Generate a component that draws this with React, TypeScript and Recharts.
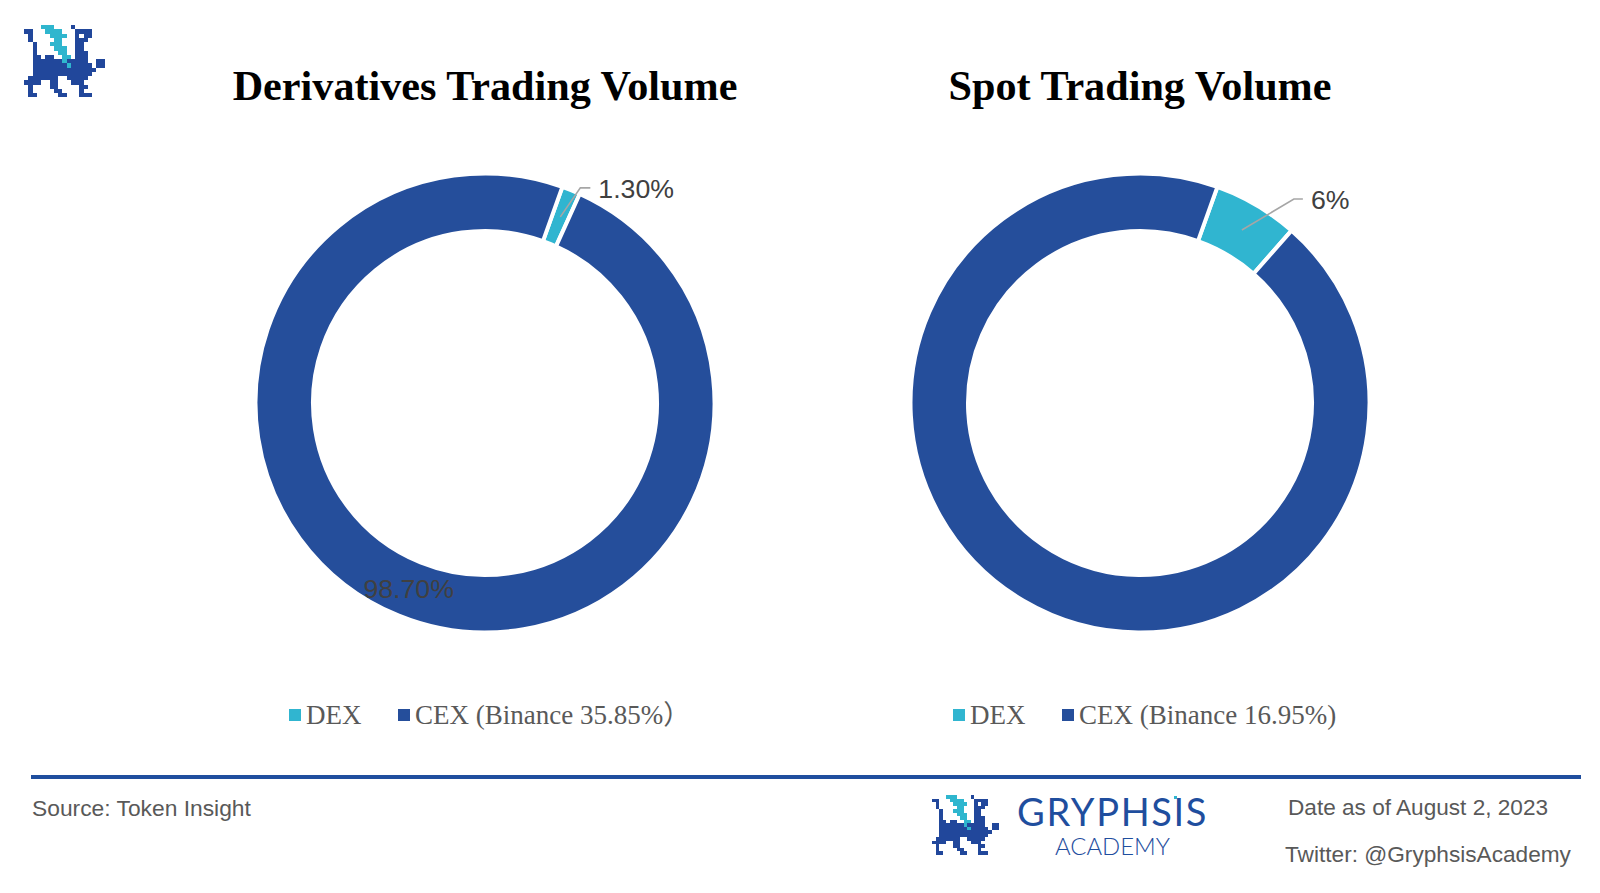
import React from "react";
import { PieChart, Pie, Cell, Legend } from "recharts";

const derivativesNames = ["DEX", "CEX (Binance 35.85%）"];
const derivativesValues = [1.3, 98.7];
const derivativesLabels = ["1.30%", "98.70%"];
const spotNames = ["DEX", "CEX (Binance 16.95%)"];
const spotValues = [6, 94];
const spotLabels = ["6%", ""];
const logoRows = [
  "....ttt....n.......",
  "nn...tttt...nnnn...",
  ".n....tttt..nwnn...",
  ".n.....tt...nnn....",
  "..n...ttt...nn.....",
  "..n....ttt..nn.....",
  "..n.....tt..nnn....",
  "..nn.nn..tt.nnn....",
  "..nnnnnnntnnnnn..nn",
  "..nnnnnnnntnnnnn.nn",
  "..nnnnnnnnnnnnnnn..",
  "..nnnnnnnnnnnnnn...",
  ".nnnnnnn..nnnnn....",
  "nnnn..nn...nnn.....",
  ".n....nn.....nn....",
  ".n.....nn....n.....",
  ".nn.....nn...nnn...",
];

const NAVY = "#254E9B";
const TEAL = "#30B5D0";
const SANS = "'Liberation Sans', Arial, sans-serif";
const SERIF = "'Liberation Serif', 'Noto Sans CJK SC', serif";
const RAD = Math.PI / 180;

function makeLabel(texts: string[], elbowDx: number, elbowDy: number, tail: number, gap: number) {
  return (p: any) => {
    const r = (p.innerRadius + p.outerRadius) / 2;
    const x = p.cx + r * Math.cos(-p.midAngle * RAD);
    const y = p.cy + r * Math.sin(-p.midAngle * RAD);
    const text = texts[p.index];
    if (!text) return <g />;
    if (p.index === 1) {
      return (
        <text x={x - 1} y={y} textAnchor="middle" dominantBaseline="central" fontFamily={SANS} fontSize={26.7} fill="#404040">
          {text}
        </text>
      );
    }
    const ex = x + elbowDx;
    const ey = y + elbowDy;
    return (
      <g>
        <polyline points={`${x},${y} ${ex},${ey} ${ex + tail},${ey}`} fill="none" stroke="#A6A6A6" strokeWidth={1.6} />
        <text x={ex + tail + gap} y={ey + 1} textAnchor="start" dominantBaseline="central" fontFamily={SANS} fontSize={26.7} fill="#404040">
          {text}
        </text>
      </g>
    );
  };
}

function LegendRow({ payload, gap }: any) {
  return (
    <div style={{ display: "flex", alignItems: "center", whiteSpace: "nowrap", height: 34 }}>
      {(payload || []).map((e: any, i: number) => (
        <div key={i} style={{ display: "flex", alignItems: "center", flexShrink: 0, width: i === 0 ? gap : undefined, height: 34 }}>
          <span style={{ display: "inline-block", flexShrink: 0, width: 12, height: 12, background: e.color, marginRight: 5 }} />
          <span style={{ fontFamily: SERIF, fontSize: 27, lineHeight: "34px", color: "#595959" }}>{e.value}</span>
        </div>
      ))}
    </div>
  );
}

function Donut({ left, cx, names, values, label, legendLeft, legendGap }: any) {
  const data = names.map((name: string, i: number) => ({ name, value: values[i] }));
  return (
    <div style={{ position: "absolute", left, top: 0 }}>
      <PieChart width={800} height={760}>
        <Pie
          data={data}
          dataKey="value"
          nameKey="name"
          cx={cx}
          cy={403}
          innerRadius={172}
          outerRadius={229.5}
          startAngle={70.3}
          endAngle={-289.7}
          stroke="#FFFFFF"
          strokeWidth={4}
          label={label}
          labelLine={false}
          isAnimationActive={false}
        >
          <Cell fill={TEAL} />
          <Cell fill={NAVY} />
        </Pie>
        <Legend
          itemSorter={null}
          wrapperStyle={{ position: "absolute", left: legendLeft, top: 703, width: "auto", height: 34 }}
          content={(props: any) => <LegendRow payload={props.payload} gap={legendGap} />}
        />
      </PieChart>
    </div>
  );
}

function Logo({ x, y, cell }: { x: number; y: number; cell: number }) {
  const colors: Record<string, string> = { n: "#21479B", t: "#2FB6CE", w: "#FFFFFF" };
  return (
    <svg style={{ position: "absolute", left: x, top: y }} width={19 * cell} height={17 * cell} shapeRendering="crispEdges">
      {logoRows.flatMap((row, r) =>
        row.split("").map((c, i) =>
          c === "." ? null : (
            <rect key={`${r}-${i}`} x={i * cell} y={r * cell} width={cell + 0.2} height={cell + 0.2} fill={colors[c]} />
          )
        )
      )}
    </svg>
  );
}

function Txt({ x, y, size, color, font, weight, children, center, spacing }: any) {
  return (
    <div
      style={{
        position: "absolute",
        left: x,
        top: y,
        transform: center ? "translate(-50%, -50%)" : "translateY(-50%)",
        fontFamily: font,
        fontSize: size,
        fontWeight: weight,
        color,
        whiteSpace: "nowrap",
        letterSpacing: spacing,
        lineHeight: 1,
      }}
    >
      {children}
    </div>
  );
}

export default function App() {
  return (
    <div style={{ position: "absolute", left: 0, top: 0, width: 1600, height: 893, background: "#fff", overflow: "hidden" }}>
      <div style={{ position: "absolute", left: 0, top: -5, width: 1600, height: 760 }}>
        <Donut
          left={-5}
          cx={485}
          names={derivativesNames}
          values={derivativesValues}
          label={makeLabel(derivativesLabels, 20, -29, 10, 8)}
          legendLeft={294}
          legendGap={109}
        />
        <Donut
          left={800}
          cx={335}
          names={spotNames}
          values={spotValues}
          label={makeLabel(spotLabels, 52, -31, 9, 8)}
          legendLeft={153}
          legendGap={109}
        />
      </div>
      <Txt x={485} y={86} center size={42.2} weight={700} color="#000" font={SERIF}>Derivatives Trading Volume</Txt>
      <Txt x={1140} y={86} center size={42.2} weight={700} color="#000" font={SERIF}>Spot Trading Volume</Txt>
      <Logo x={24} y={25} cell={4.25} />
      <Logo x={932} y={795} cell={3.5} />
      <div style={{ position: "absolute", left: 31, top: 775, width: 1550, height: 4, background: "#1F4E9E" }} />
      <Txt x={32} y={808} size={22.8} color="#595959" font={SANS}>Source: Token Insight</Txt>
      <Txt x={1288} y={808} size={22.6} color="#595959" font={SANS}>Date as of August 2, 2023</Txt>
      <Txt x={1285} y={854} size={22.65} color="#595959" font={SANS}>Twitter: @GryphsisAcademy</Txt>
      <Txt x={1017} y={811} size={38} color="#1F4E9E" font="Lato, sans-serif" weight={400} spacing={1.65}>GRYPHSIS</Txt>
      <div style={{ position: "absolute", left: 1174, top: 796, width: 3, height: 3, background: TEAL }} />
      <Txt x={1055} y={846} size={23.9} color="#1F4E9E" font="Lato, sans-serif" weight={300}>ACADEMY</Txt>
    </div>
  );
}
